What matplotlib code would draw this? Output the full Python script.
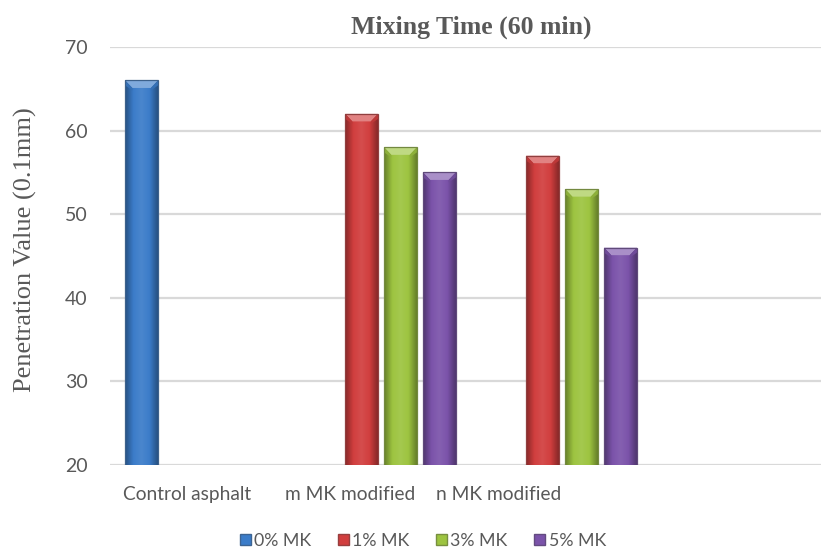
import numpy as np
import matplotlib
matplotlib.use("Agg")
import matplotlib.pyplot as plt
from matplotlib.colors import LinearSegmentedColormap, to_rgb
from matplotlib.patches import Polygon, Patch

# penetration values, 0.1 mm
categories = ["Control asphalt", "m MK modified", "n MK modified"]
series = ["0% MK", "1% MK", "3% MK", "5% MK"]
mk0 = [66, np.nan, np.nan]
mk1 = [np.nan, 62, 57]
mk3 = [np.nan, 58, 53]
mk5 = [np.nan, 55, 46]
colors = ["#3b7cc9", "#d13e3e", "#9dc440", "#7b53aa"]

def mix(c, other, t):
    c, other = np.array(to_rgb(c)), np.array(to_rgb(other))
    return tuple(c * (1 - t) + other * t)

fig = plt.figure(figsize=(8.21, 5.54), dpi=100)
ax = fig.add_axes([110 / 821, 89 / 554, 1 - 110 / 821, 418 / 554])

x = np.arange(len(categories))
width = 0.182
step = 0.215
ymin = 20

for k, (vals, col) in enumerate(zip([mk0, mk1, mk3, mk5], colors)):
    bars = ax.bar(x + (k - 1.5) * step, vals, width, color=col,
                  edgecolor=mix(col, "#404040", 0.45), linewidth=0.9, zorder=3)
    cmap = LinearSegmentedColormap.from_list(
        "g", [mix(col, "black", 0.35), col, mix(col, "white", 0.08),
              col, mix(col, "black", 0.35)])
    for b in bars:
        h = b.get_height()
        if np.isnan(h):
            continue
        x0, w = b.get_x(), b.get_width()
        # soft shading across the bar
        im = ax.imshow(np.linspace(0, 1, 64)[None, :], cmap=cmap, aspect="auto",
                       extent=[x0, x0 + w, ymin, h], zorder=3.5,
                       interpolation="bicubic")
        im.set_clip_path(b)
        # bevelled top
        cap = 0.9
        ax.add_patch(Polygon([[x0, h], [x0 + w, h], [x0 + w * 0.78, h - cap],
                              [x0 + w * 0.22, h - cap]], closed=True,
                             facecolor=mix(col, "white", 0.35), edgecolor="none",
                             zorder=4))
        ax.add_patch(Polygon([[x0, h], [x0 + w * 0.22, h - cap],
                              [x0 + w * 0.22, h - cap - 0.3], [x0, h - 0.6]],
                             closed=True, facecolor=mix(col, "black", 0.1),
                             edgecolor="none", zorder=4))
        ax.add_patch(Polygon([[x0 + w, h], [x0 + w * 0.78, h - cap],
                              [x0 + w * 0.78, h - cap - 0.3], [x0 + w, h - 0.6]],
                             closed=True, facecolor=mix(col, "black", 0.1),
                             edgecolor="none", zorder=4))
        b.set_zorder(5)
        b.set_facecolor("none")

ax.set_xlim(-0.497, 3.43)
ax.set_ylim(ymin, 70)
ax.set_yticks(np.arange(20, 71, 10))
ax.yaxis.grid(True, color="#d9d9d9", linewidth=1.6, zorder=0)
ax.set_axisbelow(True)
for s in ax.spines.values():
    s.set_visible(False)
ax.tick_params(axis="both", length=0, labelcolor="#595959")
ax.tick_params(axis="y", pad=16, labelsize=14)
ax.tick_params(axis="x", pad=15, labelsize=13.8)
for lab in ax.get_yticklabels():
    lab.set_family("Lato")

# category labels sit a little left of their groups
ax.set_xticks([-0.072, 0.83, 1.65])
ax.set_xticklabels(categories, family="Lato")

ax.set_ylabel("Penetration Value (0.1mm)", family="Liberation Serif",
              fontsize=19, color="#595959")
ax.yaxis.set_label_coords(-0.1027, 0.5156)
fig.text(471 / 821, 1 - 27 / 554, "Mixing Time (60 min)", ha="center",
         va="center", family="Liberation Serif", fontweight="bold",
         fontsize=18.5, color="#595959")

handles = [Patch(facecolor=c, edgecolor=mix(c, "#404040", 0.4)) for c in colors]
fig.legend(handles, series, loc="center", bbox_to_anchor=(423 / 821, 1 - 541 / 554),
           ncol=4, frameon=False, handlelength=0.6, handleheight=0.6,
           handletextpad=0.2, columnspacing=1.5,
           prop={"family": "Lato", "size": 12.8}, labelcolor="#595959")

fig.savefig("out.png", dpi=100)
